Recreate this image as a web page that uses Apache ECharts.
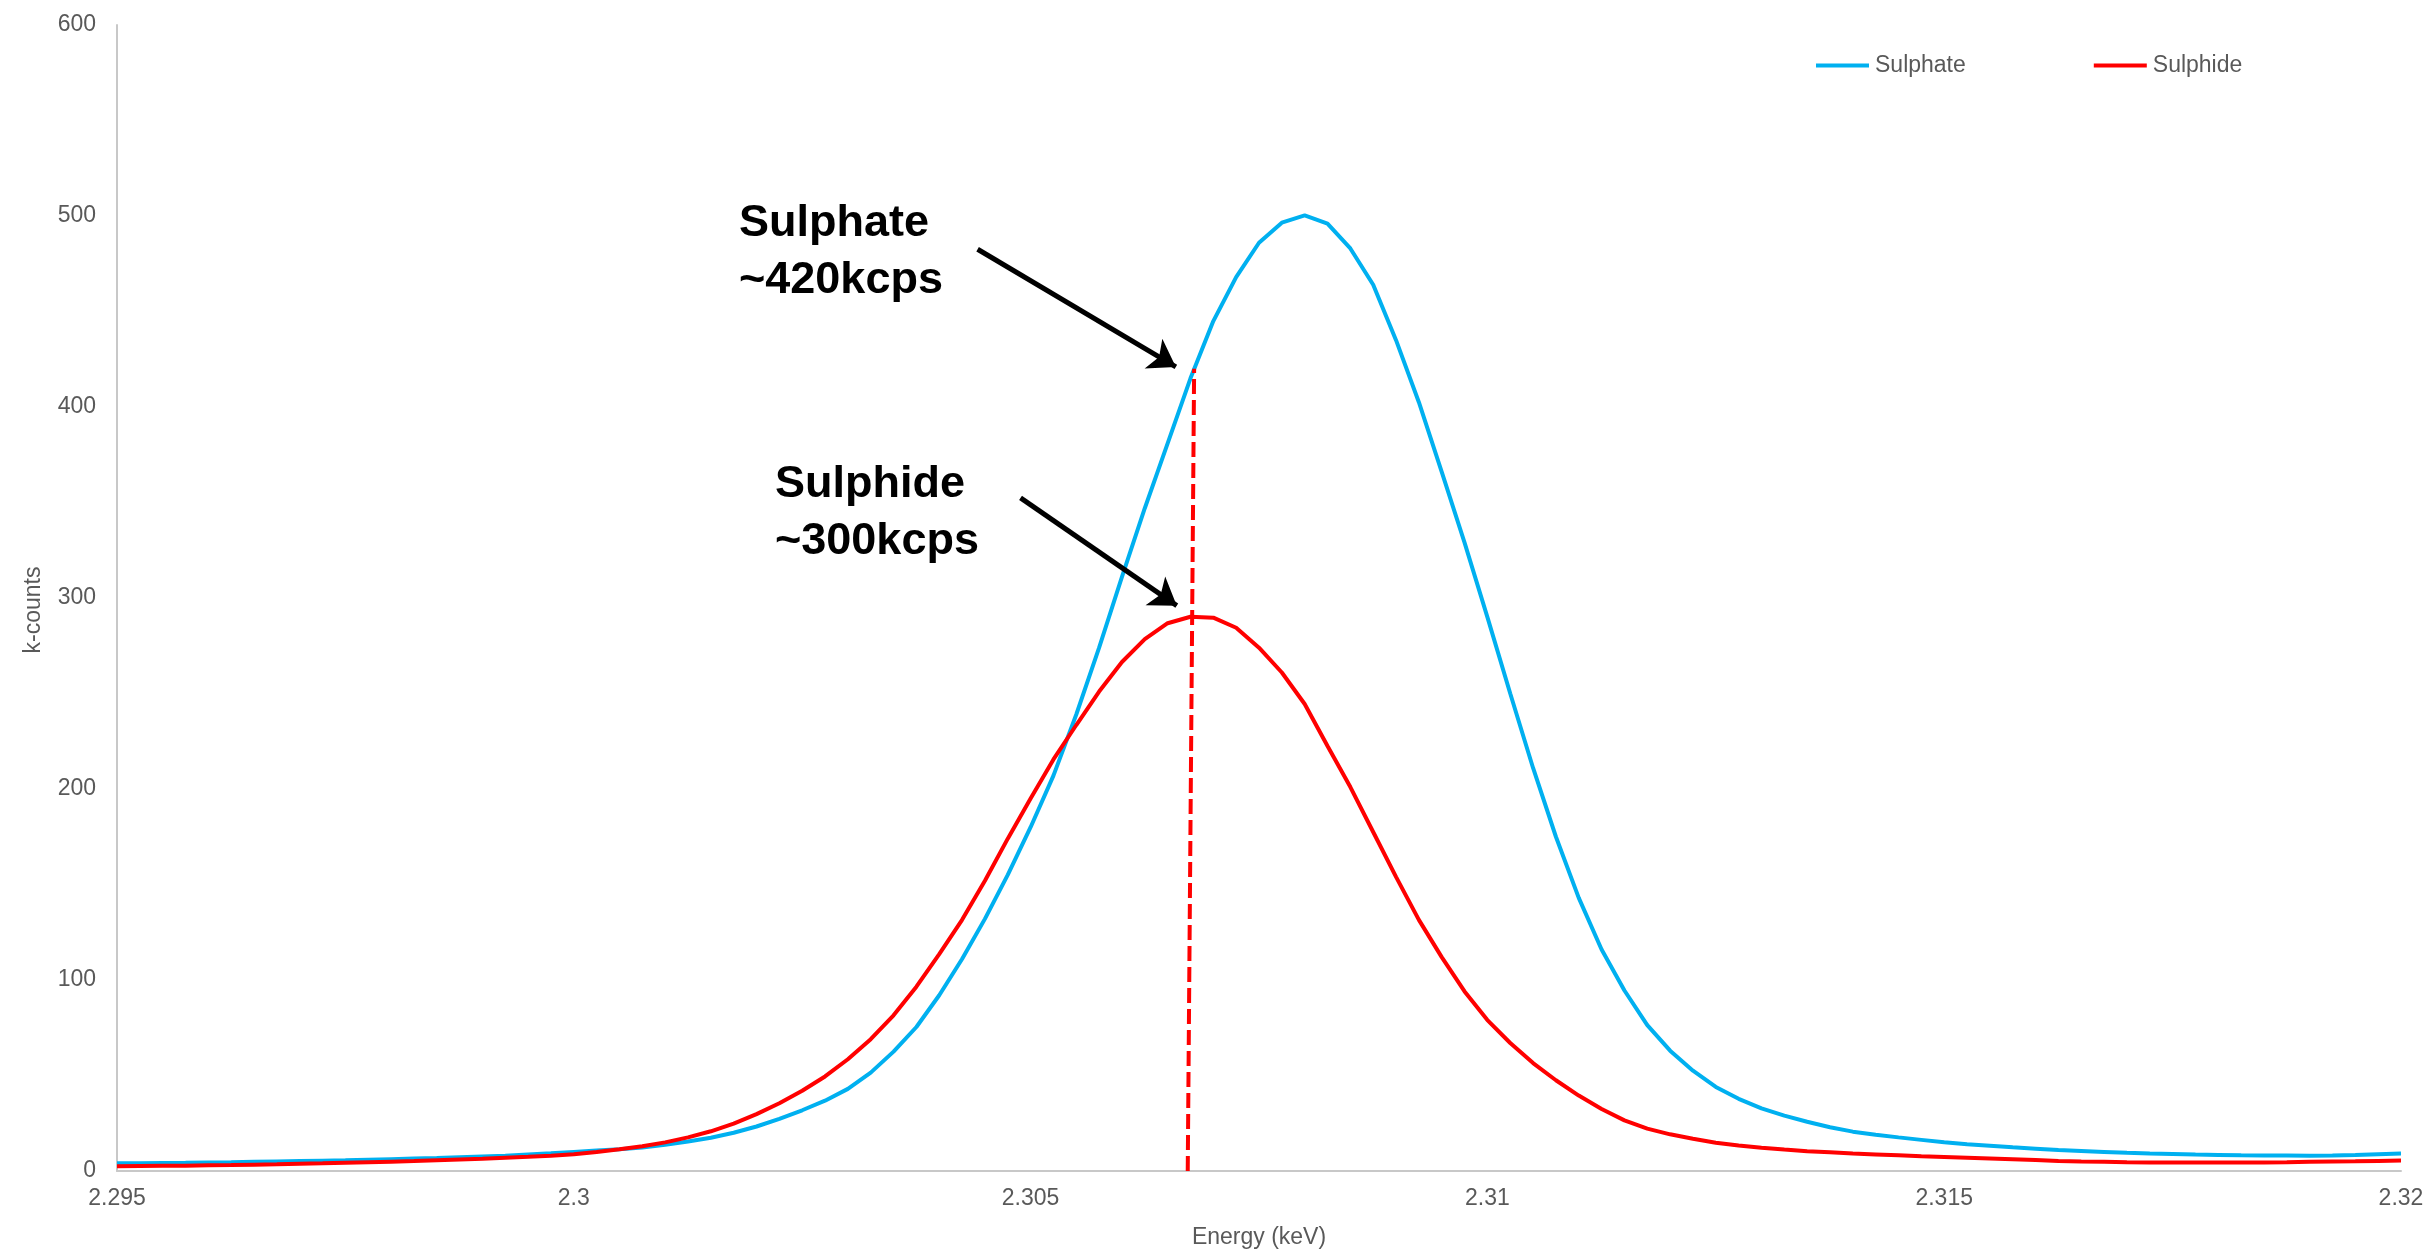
<!DOCTYPE html>
<html>
<head>
<meta charset="utf-8">
<script src="https://cdn.jsdelivr.net/npm/echarts@6/dist/echarts.min.js"></script>
<style>
  html, body { margin: 0; padding: 0; background: #ffffff; }
  #chart { width: 2434px; height: 1255px; }
</style>
</head>
<body>
<div id="chart"></div>
<script>
// Energy channels (keV)
const energy = [
  2.295, 2.29525, 2.2955, 2.29575,
  2.296, 2.29625, 2.2965, 2.29675,
  2.297, 2.29725, 2.2975, 2.29775,
  2.298, 2.29825, 2.2985, 2.29875,
  2.299, 2.29925, 2.2995, 2.29975,
  2.3, 2.30025, 2.3005, 2.30075,
  2.301, 2.30125, 2.3015, 2.30175,
  2.302, 2.30225, 2.3025, 2.30275,
  2.303, 2.30325, 2.3035, 2.30375,
  2.304, 2.30425, 2.3045, 2.30475,
  2.305, 2.30525, 2.3055, 2.30575,
  2.306, 2.30625, 2.3065, 2.30675,
  2.307, 2.30725, 2.3075, 2.30775,
  2.308, 2.30825, 2.3085, 2.30875,
  2.309, 2.30925, 2.3095, 2.30975,
  2.31, 2.31025, 2.3105, 2.31075,
  2.311, 2.31125, 2.3115, 2.31175,
  2.312, 2.31225, 2.3125, 2.31275,
  2.313, 2.31325, 2.3135, 2.31375,
  2.314, 2.31425, 2.3145, 2.31475,
  2.315, 2.31525, 2.3155, 2.31575,
  2.316, 2.31625, 2.3165, 2.31675,
  2.317, 2.31725, 2.3175, 2.31775,
  2.318, 2.31825, 2.3185, 2.31875,
  2.319, 2.31925, 2.3195, 2.31975,
  2.32
];

// Sulphate spectrum (k-counts)
const sulphate = [
  4.0, 4.1, 4.2, 4.3,
  4.5, 4.6, 4.8, 5.0,
  5.2, 5.4, 5.6, 5.9,
  6.2, 6.5, 6.8, 7.2,
  7.6, 8.0, 8.7, 9.3,
  10.0, 10.7, 11.4, 12.3,
  13.7, 15.4, 17.4, 20.0,
  23.3, 27.3, 31.8, 36.8,
  43.0, 51.5, 62.5, 75.4,
  92, 111, 132, 155,
  180, 207, 239, 274,
  311, 347, 381, 415,
  445, 468, 486, 496.5,
  500.3, 496, 483, 464,
  435, 402.5, 366, 329,
  290, 250, 211, 175,
  143, 116, 94.5, 76.4,
  63, 52.5, 44, 37.8,
  32.8, 29, 25.8, 22.9,
  20.6, 19.0, 17.6, 16.3,
  15.0, 14.0, 13.2, 12.4,
  11.7, 11.0, 10.5, 10.0,
  9.5, 9.1, 8.9, 8.6,
  8.4, 8.2, 8.1, 8.1,
  8.0, 8.1, 8.4, 8.8,
  9.2
];

// Sulphide spectrum (k-counts)
const sulphide = [
  2.5, 2.6, 2.7, 2.8,
  3.0, 3.1, 3.3, 3.5,
  3.8, 4.0, 4.3, 4.6,
  4.9, 5.2, 5.6, 6.0,
  6.4, 6.9, 7.4, 8.0,
  8.8, 10.0, 11.4, 13.0,
  15.0, 17.6, 20.8, 24.8,
  29.8, 35.5, 42.0, 49.5,
  58.5, 69, 81.5, 96.5,
  113.5, 131.5, 152, 174,
  195, 215.5, 233.5, 251,
  266.5, 278.5, 286.8, 290.2,
  289.7, 284.4, 274, 261,
  244.5, 222.5, 201, 177.5,
  154, 131.5, 112, 94,
  79, 67, 56.5, 47.5,
  39.5, 32.5, 26.5, 22.2,
  19.2, 16.9, 14.8, 13.3,
  12.2, 11.2, 10.4, 9.8,
  9.2, 8.7, 8.2, 7.7,
  7.3, 6.9, 6.5, 6.1,
  5.7, 5.3, 5.0, 4.8,
  4.6, 4.5, 4.5, 4.4,
  4.4, 4.4, 4.5, 4.6,
  4.8, 5.0, 5.1, 5.3,
  5.5
];

// Vertical guide at the sulphide peak energy, up to the sulphate reading
const guideEnergy = [2.30672, 2.30679];
const guideCounts = [0, 420];

const seriesNames = ['Sulphate', 'Sulphide'];
const FONT = '"Liberation Sans", Arial, sans-serif';
const GREY = '#595959';

const toPairs = (xs, ys) => xs.map((x, i) => [x, ys[i]]);

const chart = echarts.init(document.getElementById('chart'), null, { renderer: 'canvas' });

chart.setOption({
  animation: false,
  backgroundColor: '#ffffff',
  grid: { left: 117, right: 33, top: 25, bottom: 84, containLabel: false },
  legend: {
    data: seriesNames,
    left: 1811,
    top: 49,
    icon: 'rect',
    itemWidth: 53,
    itemHeight: 4,
    itemGap: 128,
    textStyle: { fontFamily: FONT, fontSize: 23, color: GREY, padding: [0, 0, 0, 1] }
  },
  xAxis: {
    type: 'value',
    min: 2.295,
    max: 2.32,
    interval: 0.005,
    name: 'Energy (keV)',
    nameLocation: 'middle',
    nameGap: 55,
    nameTextStyle: { fontFamily: FONT, fontSize: 23, color: GREY },
    axisLine: { show: true, onZero: false, lineStyle: { color: '#c8c8c8', width: 2 } },
    axisTick: { show: false },
    splitLine: { show: false },
    axisLabel: {
      margin: 16,
      fontFamily: FONT,
      fontSize: 23,
      color: GREY,
      showMinLabel: true,
      showMaxLabel: true,
      formatter: v => String(parseFloat(v.toFixed(4)))
    }
  },
  yAxis: {
    type: 'value',
    min: 0,
    max: 600,
    interval: 100,
    name: 'k-counts',
    nameLocation: 'middle',
    nameGap: 72,
    nameRotate: 90,
    nameTextStyle: { fontFamily: FONT, fontSize: 23, color: GREY, padding: [0, 24, 0, 0] },
    axisLine: { show: true, lineStyle: { color: '#c8c8c8', width: 2 } },
    axisTick: { show: false },
    splitLine: { show: false },
    axisLabel: { margin: 21, fontFamily: FONT, fontSize: 23, color: GREY }
  },
  series: [
    {
      name: 'Sulphate',
      type: 'line',
      data: toPairs(energy, sulphate),
      showSymbol: false,
      smooth: false,
      lineStyle: { color: '#00b0f0', width: 4 },
      itemStyle: { color: '#00b0f0' },
      z: 3
    },
    {
      name: 'Sulphide',
      type: 'line',
      data: toPairs(energy, sulphide),
      showSymbol: false,
      smooth: false,
      lineStyle: { color: '#ff0000', width: 4 },
      itemStyle: { color: '#ff0000' },
      z: 4
    },
    {
      name: 'guide',
      type: 'line',
      data: toPairs(guideEnergy, guideCounts),
      showSymbol: false,
      lineStyle: { color: '#ff0000', width: 4, type: [15, 6] },
      z: 5,
      silent: true
    },
    {
      name: 'pointers',
      type: 'lines',
      coordinateSystem: 'cartesian2d',
      polyline: false,
      symbol: ['none', 'arrow'],
      symbolSize: [17, 26],
      lineStyle: { color: '#000000', width: 5, opacity: 1, curveness: 0 },
      silent: true,
      z: 6,
      data: [
        { coords: [[2.30442, 482.6], [2.30659, 421.0]] },
        { coords: [[2.30489, 352.4], [2.30660, 296.0]] }
      ]
    }
  ],
  graphic: [
    {
      type: 'text',
      left: 739,
      top: 195,
      style: {
        text: 'Sulphate\n~' + guideCounts[1] + 'kcps',
        font: 'bold 45px ' + FONT,
        fill: '#000000',
        lineHeight: 57
      },
      z: 10
    },
    {
      type: 'text',
      left: 775,
      top: 456,
      style: {
        text: 'Sulphide\n~300kcps',
        font: 'bold 45px ' + FONT,
        fill: '#000000',
        lineHeight: 57
      },
      z: 10
    }
  ]
});
</script>
</body>
</html>
